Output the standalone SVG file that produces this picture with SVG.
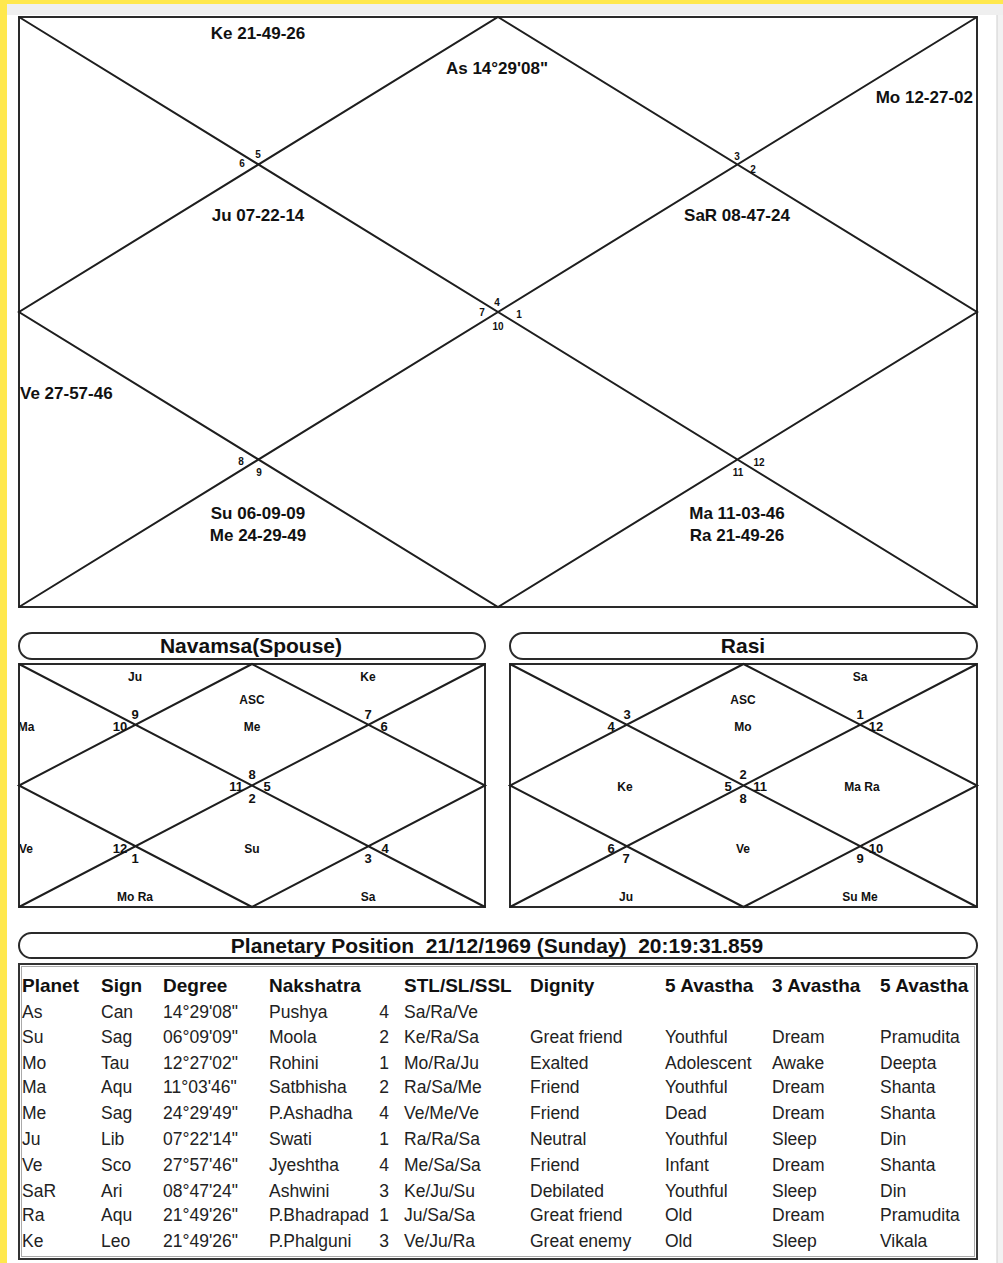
<svg xmlns="http://www.w3.org/2000/svg" width="1003" height="1263" viewBox="0 0 1003 1263">
<style>
.ln{stroke:#1e1e1e;stroke-width:2;fill:none}
.box{stroke:#2a2a2a;stroke-width:2;fill:#fff}
.big{font-family:"Liberation Sans",Arial,sans-serif;font-weight:bold;font-size:17px;fill:#111}
.num{font-family:"Liberation Sans",Arial,sans-serif;font-weight:bold;font-size:10px;fill:#111;text-anchor:middle}
.sm{font-family:"Liberation Sans",Arial,sans-serif;font-weight:bold;font-size:12px;fill:#111;text-anchor:middle}
.sn{font-family:"Liberation Sans",Arial,sans-serif;font-weight:bold;font-size:13px;fill:#111;text-anchor:middle}
.ttl{font-family:"Liberation Sans",Arial,sans-serif;font-weight:bold;font-size:21px;fill:#111;text-anchor:middle}
.th{font-family:"Liberation Sans",Arial,sans-serif;font-weight:bold;font-size:19px;fill:#111}
.td{font-family:"Liberation Sans",Arial,sans-serif;font-size:17.5px;fill:#222}
.mid{text-anchor:middle}
</style>
<defs>
<clipPath id="navclip"><rect x="20" y="664" width="465" height="243"/></clipPath>
</defs>
<rect x="0" y="0" width="1003" height="1263" fill="#fff"/>
<rect x="0" y="0" width="1003" height="4" fill="#ffe84d"/>
<rect x="0" y="4" width="1003" height="11" fill="#efefef"/>
<rect x="0" y="0" width="7" height="1263" fill="#ffe84d"/>
<rect x="997" y="15" width="6" height="1248" fill="#f2f2f2"/>
<line x1="997" y1="15" x2="997" y2="1263" stroke="#cfcfcf" stroke-width="1"/>

<!-- Main chart -->
<g id="main-chart">
<rect class="box" x="19" y="17" width="958" height="590"/>
<path class="ln" d="M19 17 L977 607 M977 17 L19 607 M498 17 L977 312 L498 607 L19 312 Z"/>
<text class="num" x="258" y="158">5</text>
<text class="num" x="242" y="167">6</text>
<text class="num" x="737" y="160">3</text>
<text class="num" x="753" y="173">2</text>
<text class="num" x="497" y="306">4</text>
<text class="num" x="482" y="316">7</text>
<text class="num" x="519" y="318">1</text>
<text class="num" x="498" y="330">10</text>
<text class="num" x="241" y="465">8</text>
<text class="num" x="259" y="476">9</text>
<text class="num" x="759" y="466">12</text>
<text class="num" x="738" y="476">11</text>
<text class="big mid" x="258" y="39">Ke 21-49-26</text>
<text class="big mid" x="497" y="74">As 14°29'08"</text>
<text class="big" x="973" y="103" text-anchor="end">Mo 12-27-02</text>
<text class="big mid" x="258" y="221">Ju 07-22-14</text>
<text class="big mid" x="737" y="221">SaR 08-47-24</text>
<text class="big" x="20" y="399">Ve 27-57-46</text>
<text class="big mid" x="258" y="519">Su 06-09-09</text>
<text class="big mid" x="258" y="541">Me 24-29-49</text>
<text class="big mid" x="737" y="519">Ma 11-03-46</text>
<text class="big mid" x="737" y="541">Ra 21-49-26</text>
</g>

<!-- Navamsa -->
<g id="navamsa-title">
<rect class="box" x="19" y="633" width="466" height="26" rx="13" ry="13"/>
<text class="ttl" x="251" y="653">Navamsa(Spouse)</text>
</g>
<g id="navamsa-chart">
<rect class="box" x="19" y="664" width="466" height="243"/>
<path class="ln" d="M19 664 L485 907 M485 664 L19 907 M252 664 L485 785.5 L252 907 L19 785.5 Z"/>
<text class="sm" x="135" y="681">Ju</text>
<text class="sm" x="368" y="681">Ke</text>
<text class="sm" x="252" y="704">ASC</text>
<text class="sm" x="252" y="731">Me</text>
<text class="sm" x="26" y="731" clip-path="url(#navclip)">Ma</text>
<text class="sn" x="135" y="719">9</text>
<text class="sn" x="120" y="731">10</text>
<text class="sn" x="368" y="719">7</text>
<text class="sn" x="384" y="731">6</text>
<text class="sn" x="252" y="779">8</text>
<text class="sn" x="236" y="791">11</text>
<text class="sn" x="267" y="791">5</text>
<text class="sn" x="252" y="803">2</text>
<text class="sm" x="26" y="853" clip-path="url(#navclip)">Ve</text>
<text class="sn" x="120" y="853">12</text>
<text class="sn" x="135" y="863">1</text>
<text class="sm" x="252" y="853">Su</text>
<text class="sn" x="368" y="863">3</text>
<text class="sn" x="385" y="853">4</text>
<text class="sm" x="135" y="901">Mo Ra</text>
<text class="sm" x="368" y="901">Sa</text>
</g>

<!-- Rasi -->
<g id="rasi-title">
<rect class="box" x="510" y="633" width="467" height="26" rx="13" ry="13"/>
<text class="ttl" x="743" y="653">Rasi</text>
</g>
<g id="rasi-chart">
<rect class="box" x="510" y="664" width="467" height="243"/>
<path class="ln" d="M510 664 L977 907 M977 664 L510 907 M743.5 664 L977 785.5 L743.5 907 L510 785.5 Z"/>
<text class="sm" x="860" y="681">Sa</text>
<text class="sm" x="743" y="704">ASC</text>
<text class="sm" x="743" y="731">Mo</text>
<text class="sn" x="627" y="719">3</text>
<text class="sn" x="611" y="731">4</text>
<text class="sn" x="860" y="719">1</text>
<text class="sn" x="876" y="731">12</text>
<text class="sm" x="625" y="791">Ke</text>
<text class="sn" x="743" y="779">2</text>
<text class="sn" x="728" y="791">5</text>
<text class="sn" x="760" y="791">11</text>
<text class="sn" x="743" y="803">8</text>
<text class="sm" x="862" y="791">Ma Ra</text>
<text class="sn" x="611" y="853">6</text>
<text class="sn" x="626" y="863">7</text>
<text class="sm" x="743" y="853">Ve</text>
<text class="sn" x="876" y="853">10</text>
<text class="sn" x="860" y="863">9</text>
<text class="sm" x="626" y="901">Ju</text>
<text class="sm" x="860" y="901">Su Me</text>
</g>

<!-- Table -->
<g id="table-title">
<rect class="box" x="19" y="933" width="958" height="25" rx="12.5" ry="12.5"/>
<text class="ttl" x="497" y="953" xml:space="preserve">Planetary Position  21/12/1969 (Sunday)  20:19:31.859</text>
</g>
<g id="table">
<rect x="19" y="964" width="958" height="295" fill="#fff" stroke="#333" stroke-width="2"/>
<rect x="21.5" y="966.5" width="953" height="290" fill="none" stroke="#aaa" stroke-width="1"/>
<g class="th">
<text x="22" y="992">Planet</text>
<text x="101" y="992">Sign</text>
<text x="163" y="992">Degree</text>
<text x="269" y="992">Nakshatra</text>
<text x="404" y="992">STL/SL/SSL</text>
<text x="530" y="992">Dignity</text>
<text x="665" y="992">5 Avastha</text>
<text x="772" y="992">3 Avastha</text>
<text x="880" y="992">5 Avastha</text>
</g>
<g class="td">
<text x="22" y="1018">As</text><text x="101" y="1018">Can</text><text x="163" y="1018">14°29'08"</text><text x="269" y="1018">Pushya</text><text x="384" y="1018" text-anchor="middle">4</text><text x="404" y="1018">Sa/Ra/Ve</text>
<text x="22" y="1043">Su</text><text x="101" y="1043">Sag</text><text x="163" y="1043">06°09'09"</text><text x="269" y="1043">Moola</text><text x="384" y="1043" text-anchor="middle">2</text><text x="404" y="1043">Ke/Ra/Sa</text><text x="530" y="1043">Great friend</text><text x="665" y="1043">Youthful</text><text x="772" y="1043">Dream</text><text x="880" y="1043">Pramudita</text>
<text x="22" y="1069">Mo</text><text x="101" y="1069">Tau</text><text x="163" y="1069">12°27'02"</text><text x="269" y="1069">Rohini</text><text x="384" y="1069" text-anchor="middle">1</text><text x="404" y="1069">Mo/Ra/Ju</text><text x="530" y="1069">Exalted</text><text x="665" y="1069">Adolescent</text><text x="772" y="1069">Awake</text><text x="880" y="1069">Deepta</text>
<text x="22" y="1093">Ma</text><text x="101" y="1093">Aqu</text><text x="163" y="1093">11°03'46"</text><text x="269" y="1093">Satbhisha</text><text x="384" y="1093" text-anchor="middle">2</text><text x="404" y="1093">Ra/Sa/Me</text><text x="530" y="1093">Friend</text><text x="665" y="1093">Youthful</text><text x="772" y="1093">Dream</text><text x="880" y="1093">Shanta</text>
<text x="22" y="1119">Me</text><text x="101" y="1119">Sag</text><text x="163" y="1119">24°29'49"</text><text x="269" y="1119">P.Ashadha</text><text x="384" y="1119" text-anchor="middle">4</text><text x="404" y="1119">Ve/Me/Ve</text><text x="530" y="1119">Friend</text><text x="665" y="1119">Dead</text><text x="772" y="1119">Dream</text><text x="880" y="1119">Shanta</text>
<text x="22" y="1145">Ju</text><text x="101" y="1145">Lib</text><text x="163" y="1145">07°22'14"</text><text x="269" y="1145">Swati</text><text x="384" y="1145" text-anchor="middle">1</text><text x="404" y="1145">Ra/Ra/Sa</text><text x="530" y="1145">Neutral</text><text x="665" y="1145">Youthful</text><text x="772" y="1145">Sleep</text><text x="880" y="1145">Din</text>
<text x="22" y="1171">Ve</text><text x="101" y="1171">Sco</text><text x="163" y="1171">27°57'46"</text><text x="269" y="1171">Jyeshtha</text><text x="384" y="1171" text-anchor="middle">4</text><text x="404" y="1171">Me/Sa/Sa</text><text x="530" y="1171">Friend</text><text x="665" y="1171">Infant</text><text x="772" y="1171">Dream</text><text x="880" y="1171">Shanta</text>
<text x="22" y="1197">SaR</text><text x="101" y="1197">Ari</text><text x="163" y="1197">08°47'24"</text><text x="269" y="1197">Ashwini</text><text x="384" y="1197" text-anchor="middle">3</text><text x="404" y="1197">Ke/Ju/Su</text><text x="530" y="1197">Debilated</text><text x="665" y="1197">Youthful</text><text x="772" y="1197">Sleep</text><text x="880" y="1197">Din</text>
<text x="22" y="1221">Ra</text><text x="101" y="1221">Aqu</text><text x="163" y="1221">21°49'26"</text><text x="269" y="1221">P.Bhadrapad</text><text x="384" y="1221" text-anchor="middle">1</text><text x="404" y="1221">Ju/Sa/Sa</text><text x="530" y="1221">Great friend</text><text x="665" y="1221">Old</text><text x="772" y="1221">Dream</text><text x="880" y="1221">Pramudita</text>
<text x="22" y="1247">Ke</text><text x="101" y="1247">Leo</text><text x="163" y="1247">21°49'26"</text><text x="269" y="1247">P.Phalguni</text><text x="384" y="1247" text-anchor="middle">3</text><text x="404" y="1247">Ve/Ju/Ra</text><text x="530" y="1247">Great enemy</text><text x="665" y="1247">Old</text><text x="772" y="1247">Sleep</text><text x="880" y="1247">Vikala</text>
</g>
</g>
</svg>
